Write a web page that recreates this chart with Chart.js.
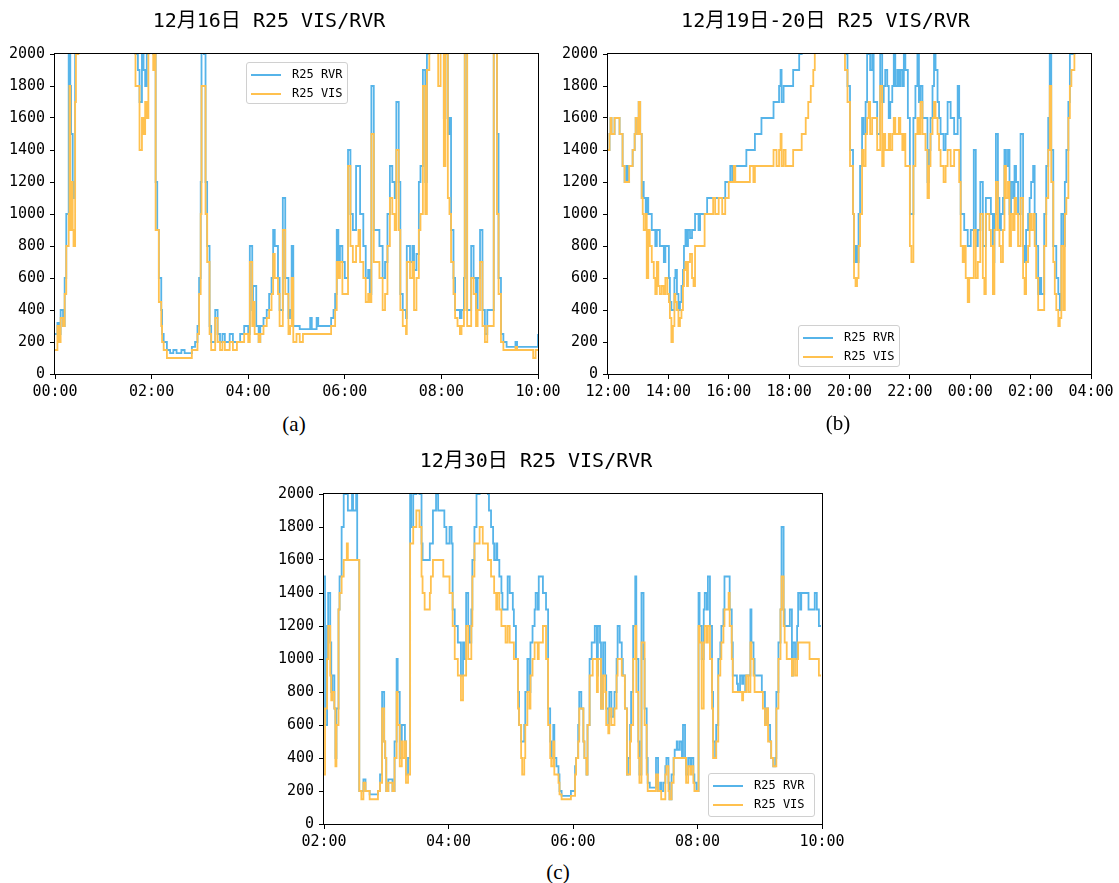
<!DOCTYPE html>
<html>
<head>
<meta charset="utf-8">
<script src="https://cdn.jsdelivr.net/npm/chart.js@4/dist/chart.umd.min.js"></script>
<style>
  body { margin: 0; width: 1119px; height: 883px; position: relative; background: #fff; overflow: hidden; }
  canvas { position: absolute; }
  .legend { position: absolute; background: rgba(255,255,255,0.85); border: 1px solid #d0d0d0; border-radius: 3px; box-sizing: border-box;
            font: 12px 'DejaVu Sans Mono', monospace; color: #000; }
  .legend .row { position: absolute; left: 4px; height: 16px; line-height: 16px; white-space: nowrap; }
  .legend .swatch { display: inline-block; width: 30px; height: 2px; vertical-align: middle; margin-right: 11px; }
  .caption { position: absolute; font: 21px 'Liberation Serif', 'Times New Roman', serif; color: #000; transform: translate(-50%, -50%); }
</style>
</head>
<body>
<canvas id="chartA" width="560" height="402" style="left:0;top:0"></canvas>
<canvas id="chartB" width="559" height="402" style="left:560px;top:0"></canvas>
<canvas id="chartC" width="600" height="412" style="left:250px;top:440px"></canvas>

<div class="legend" style="left:246px;top:62px;width:102px;height:42px">
  <div class="row" style="top:3px"><span class="swatch" style="background:#56B4E9"></span>R25 RVR</div>
  <div class="row" style="top:22px"><span class="swatch" style="background:#FFC14F"></span>R25 VIS</div>
</div>
<div class="legend" style="left:798px;top:325px;width:102px;height:42px">
  <div class="row" style="top:3px"><span class="swatch" style="background:#56B4E9"></span>R25 RVR</div>
  <div class="row" style="top:22px"><span class="swatch" style="background:#FFC14F"></span>R25 VIS</div>
</div>
<div class="legend" style="left:708px;top:773px;width:107px;height:44px">
  <div class="row" style="top:3px"><span class="swatch" style="background:#56B4E9"></span>R25 RVR</div>
  <div class="row" style="top:22px"><span class="swatch" style="background:#FFC14F"></span>R25 VIS</div>
</div>

<div class="caption" style="left:294px;top:424px">(a)</div>
<div class="caption" style="left:838px;top:423px">(b)</div>
<div class="caption" style="left:558px;top:872px">(c)</div>

<script>
// minutes after the start hour of each panel; 2200 = off the top of the axis
const aMinutes = [0,3,5,7,10,12,14,17,18,19,20,22,23,25,26,29,100,103,105,108,110,112,114,116,122,124,125,127,129,132,133,135,139,143,147,151,157,161,170,174,177,179,181,182,185,187,189,192,194,199,202,205,208,211,217,221,226,230,235,240,242,245,246,248,250,253,255,259,263,266,269,271,273,277,279,283,286,290,292,294,296,300,304,308,317,319,325,327,333,341,343,346,348,350,352,354,357,360,364,367,370,374,377,379,383,386,389,391,393,396,399,403,407,410,413,416,419,422,424,427,429,432,436,437,441,444,446,449,452,454,457,460,462,465,476,479,483,485,488,490,492,495,497,500,503,505,508,509,512,515,517,520,523,525,528,531,534,537,541,545,549,551,554,557,561,572,574,594,597,600];
const aRvr = [250,320,250,400,300,600,1000,2200,2000,1800,1500,1200,1100,2200,2200,2200,2000,1900,1700,2000,1900,1800,2000,2200,2000,2200,1200,900,600,400,250,200,150,130,150,130,150,130,170,200,300,600,1200,2200,2000,1200,800,300,200,400,250,200,250,200,250,200,200,250,300,250,800,400,550,550,300,200,300,350,400,500,600,900,800,600,400,1100,600,350,400,800,300,300,280,280,350,280,350,300,300,300,350,400,500,900,700,800,700,600,1400,1000,900,1300,1300,1000,800,600,650,500,1800,900,900,800,600,700,1000,1300,1200,1100,1700,1200,500,400,350,800,700,800,650,750,1200,1300,1900,1200,2000,2200,2200,2200,1600,2200,1500,1600,900,600,400,400,350,400,600,2200,400,400,800,600,400,600,900,400,250,400,400,2200,1500,600,250,200,170,200,170,170,170,250];
const aVis = [150,300,200,350,300,500,800,1000,1800,900,1200,900,800,1700,2000,2200,1800,1800,1400,1600,1500,1700,1600,2200,1900,2000,900,900,450,300,200,150,100,100,100,100,100,100,150,150,250,500,1000,1800,1800,1000,700,250,150,350,200,150,200,150,200,150,200,200,250,200,700,300,450,250,250,200,250,300,350,400,500,750,600,500,300,900,500,250,300,600,200,250,200,250,250,250,250,250,250,250,300,300,400,700,600,700,500,500,1300,800,700,800,900,700,600,450,500,450,1500,700,700,600,400,500,800,1100,1000,900,1400,900,400,300,250,700,600,700,400,600,900,1000,1800,1000,1900,2200,1800,2200,1300,2000,1100,1000,700,500,350,300,250,300,400,2200,300,300,600,500,300,400,700,300,200,300,300,2200,1000,500,200,150,150,170,150,100,150,150];

const bMinutes = [0,3,5,7,13,23,29,33,37,39,42,49,53,55,59,61,64,67,69,71,75,77,80,83,87,91,94,97,100,103,107,111,114,118,121,123,126,129,132,134,137,140,143,146,149,151,154,157,159,163,167,170,173,180,183,192,197,209,213,220,227,233,240,243,247,250,253,275,282,289,292,305,329,335,340,343,345,349,353,368,380,385,393,398,403,408,411,471,476,481,487,489,492,495,498,501,505,508,512,515,518,521,525,528,535,541,545,548,551,555,558,561,565,568,571,575,578,581,585,588,591,596,600,603,607,611,615,618,621,625,631,635,638,641,645,648,651,655,658,661,667,671,675,681,688,695,698,701,705,708,711,715,718,721,727,731,735,740,745,748,751,758,761,765,768,771,775,778,781,785,788,791,795,798,801,805,808,811,815,820,825,828,831,835,838,841,845,848,851,855,858,861,867,871,875,878,881,885,888,891,895,898,901,905,908,911,915,918,921,927,935];
const bRvr = [1400,1500,1600,1500,1600,1500,1300,1200,1300,1200,1300,1400,1500,1600,1500,1700,1500,1100,1200,1100,1000,1100,1000,1000,900,900,800,900,900,800,800,700,800,800,600,450,400,400,600,650,500,400,450,550,650,800,900,800,900,850,900,900,1000,900,1000,1000,1100,1100,1100,1100,1100,1200,1200,1300,1200,1300,1300,1400,1400,1400,1500,1600,1700,1700,1800,1900,1700,1800,1800,1900,2000,2200,2200,2200,2200,2200,2200,2000,1800,1400,1000,700,800,700,1000,1300,1600,1500,1700,2000,2000,1900,2000,1700,1500,2000,1700,1800,1900,1800,1600,1700,1800,2000,1800,1900,1800,1900,1800,2000,1900,1600,1000,1000,1600,1800,2000,1700,1800,1600,1600,1200,1400,1600,1800,2000,1900,1700,1600,1500,1400,1500,1700,1600,1500,1800,1600,1000,1000,900,900,800,800,900,1400,800,900,1200,800,800,1100,1100,1000,700,1000,1500,1100,900,1000,1100,1400,1300,1400,1000,1200,1100,1300,1200,1000,1500,800,700,900,1000,1100,1200,1300,1000,800,500,600,500,1000,1300,1600,2000,1400,800,800,600,500,400,1000,800,1200,1400,1700,2000,2000,2200,2200];
const bVis = [1400,1500,1600,1500,1600,1500,1300,1200,1200,1200,1300,1400,1500,1600,1500,1700,1500,1100,1000,900,1000,600,900,800,700,600,500,700,550,500,550,500,600,500,450,350,200,300,500,450,400,300,350,400,550,650,700,550,700,750,600,550,800,800,800,1000,1000,1100,1000,1100,1000,1100,1200,1200,1200,1300,1200,1200,1300,1200,1300,1300,1400,1300,1400,1500,1300,1400,1300,1400,1400,1500,1600,1700,1800,1900,2200,1900,1700,1300,1000,600,550,600,800,1000,1400,1300,1500,1600,1700,1500,1600,1600,1400,1800,1300,1500,1400,1400,1500,1400,1500,1600,1500,1500,1600,1500,1400,1500,1300,1300,800,700,1300,1500,1600,1500,1700,1500,1400,1100,1300,1500,1600,1700,1600,1500,1400,1300,1200,1300,1400,1300,1400,1400,1200,800,700,800,600,450,600,600,900,600,700,1000,600,500,1000,900,800,500,900,1200,900,800,700,900,1300,1100,1200,800,1000,900,1100,1000,800,1100,600,500,700,800,1000,900,1000,800,600,400,400,400,800,1100,1400,1800,1200,700,500,400,300,350,800,400,1000,1100,1600,1800,1900,2200,2200];

const cMinutes = [0,1,3,4,6,7,8,10,11,12,14,15,17,19,22,23,27,28,31,32,34,36,38,40,44,52,54,56,58,59,60,62,64,66,68,70,71,73,75,76,78,79,81,83,84,86,89,92,94,95,97,100,102,103,105,108,110,115,116,118,121,123,124,126,129,132,134,135,137,139,140,142,143,145,147,150,153,158,159,161,163,164,166,167,169,171,172,175,177,179,182,183,185,187,188,190,191,193,194,196,198,199,201,203,204,206,207,211,214,216,218,219,221,222,224,226,227,229,238,242,243,245,246,248,250,251,253,254,256,258,259,261,263,264,266,267,269,271,272,274,275,277,279,280,282,283,285,287,288,290,292,293,295,296,298,300,301,303,304,306,308,309,311,312,314,320,322,324,325,327,329,330,332,333,335,337,338,340,341,343,345,346,348,349,351,353,354,356,357,359,361,362,364,366,367,369,370,372,374,375,377,378,380,382,383,385,386,390,391,393,394,398,399,401,403,404,406,407,409,411,412,414,415,422,423,425,427,428,430,431,433,435,436,438,440,441,443,444,446,449,451,452,454,456,457,459,460,467,468,473,475,477,479];
const cRvr = [1500,600,1200,1400,1100,800,900,700,400,700,1300,1500,1800,2000,2000,1900,2000,1900,2000,1600,200,200,270,200,180,200,300,800,500,400,200,270,270,200,500,1000,800,400,600,600,500,300,400,2000,1800,2000,2200,2000,1700,1600,1600,1600,1700,1700,1900,2000,1900,1900,1800,1700,1800,1700,1300,1200,1100,900,1100,1000,1400,1200,1100,1300,1600,1800,2000,2200,2200,2000,1900,1800,1700,1600,1700,1600,1500,1400,1300,1300,1500,1400,1300,1200,1000,800,600,500,500,600,800,1000,800,1100,1200,1300,1400,1300,1500,1400,1300,700,500,400,600,400,350,300,200,170,200,350,400,600,800,700,500,400,300,600,1000,1100,1100,1200,900,1200,1100,700,1100,900,700,600,800,650,700,800,1000,1200,1100,1000,900,700,300,400,600,800,1200,1500,1000,500,300,1400,1000,700,400,250,220,400,200,250,200,250,350,400,250,150,300,400,450,500,450,500,400,600,400,300,400,350,400,300,250,200,1400,1200,1000,1300,1400,1300,1500,1200,800,500,400,600,1000,1100,1200,1300,1500,1500,1300,1100,900,850,800,900,850,900,800,900,900,1300,1100,1000,900,800,800,600,700,600,500,400,350,400,800,1100,1300,1800,1300,1200,1200,1300,900,1100,1000,1200,1400,1300,1400,1300,1300,1400,1300,1200,1200];
const cVis = [300,700,1000,1200,900,750,800,700,350,600,1300,1400,1500,1600,1700,1600,1600,1600,1600,1600,200,150,250,200,150,200,250,700,500,400,200,250,250,200,400,800,600,350,500,400,500,250,300,1700,1700,1800,1900,1800,1500,1400,1300,1300,1400,1500,1600,1600,1600,1500,1500,1500,1400,1400,1200,1000,900,750,900,900,1200,1000,1000,1200,1500,1700,1700,1800,1700,1600,1600,1500,1500,1400,1300,1400,1300,1200,1200,1100,1200,1100,1100,1000,1000,700,600,400,300,400,600,800,700,900,1000,1100,1100,1000,1100,1200,1000,600,400,350,500,300,300,250,180,150,170,300,400,500,700,700,500,400,300,600,900,900,1000,1000,800,1000,1000,700,900,800,600,550,700,600,600,700,900,1000,1000,900,900,700,300,300,500,600,1000,1200,800,400,250,1100,1100,600,300,200,200,300,200,200,150,150,300,350,200,150,250,400,400,400,400,400,400,400,400,250,350,300,350,250,200,200,1200,1100,700,1100,1200,1100,1200,1000,700,400,400,500,900,1000,1100,1200,1300,1400,1200,1000,800,800,800,800,750,800,800,900,800,1100,1000,900,800,800,700,600,700,500,500,400,350,350,700,1000,1300,1500,1200,1100,1000,1000,900,1000,900,1000,1100,1100,1100,1100,1000,1000,1000,900,900];

const yTicks = [0, 200, 400, 600, 800, 1000, 1200, 1400, 1600, 1800, 2000];
const rvrColor = '#56B4E9';
const visColor = '#FFC14F';

Chart.defaults.font.family = "'DejaVu Sans Mono', 'Noto Sans CJK SC', monospace";
Chart.defaults.color = '#000';

const framePlugin = {
  id: 'frame',
  afterDatasetsDraw(chart) {
    const { ctx, chartArea: a } = chart;
    ctx.save();
    ctx.strokeStyle = '#000';
    ctx.lineWidth = 1;
    ctx.strokeRect(Math.round(a.left) - 0.5, Math.round(a.top) - 0.5, Math.round(a.right - a.left) + 1, Math.round(a.bottom - a.top) + 1);
    ctx.restore();
  }
};

function pad(n) {
  return String(n).padStart(2, '0');
}

function toPoints(minutes, values) {
  return minutes.map((m, i) => ({ x: m, y: values[i] }));
}

function makeChart(id, title, minutes, rvr, vis, opts) {
  const ctx = document.getElementById(id).getContext('2d');
  return new Chart(ctx, {
    type: 'line',
    data: {
      datasets: [
        { label: 'R25 RVR', data: toPoints(minutes, rvr), borderColor: rvrColor, borderWidth: 1.8, order: 2 },
        { label: 'R25 VIS', data: toPoints(minutes, vis), borderColor: visColor, borderWidth: 1.8, order: 1 }
      ]
    },
    options: {
      responsive: false,
      animation: false,
      devicePixelRatio: 1,
      elements: { point: { radius: 0 }, line: { stepped: true, tension: 0 } },
      layout: { padding: { right: opts.padRight } },
      plugins: {
        legend: { display: false },
        tooltip: { enabled: false },
        title: {
          display: true,
          text: title,
          color: '#000',
          font: { size: 20, weight: 'normal' },
          padding: { top: 10, bottom: 20 }
        }
      },
      scales: {
        x: {
          type: 'linear',
          min: opts.xMax - opts.span,
          max: opts.xMax,
          // keep the plot edges where the reference has them
          afterFit: s => { s.height = 28; s.paddingLeft = 0; s.paddingRight = 0; },
          afterBuildTicks: s => { s.ticks = opts.xTicks.map(v => ({ value: v })); },
          grid: { drawOnChartArea: false, drawTicks: true, tickLength: 5, color: '#000' },
          border: { display: false },
          ticks: {
            padding: 4,
            font: { size: 15 },
            maxRotation: 0,
            callback: v => {
              const t = (opts.startHour * 60 + v) % 1440;
              return pad(Math.floor(t / 60)) + ':' + pad(t % 60);
            }
          }
        },
        y: {
          min: 0,
          max: 2000,
          afterFit: s => { s.width = opts.yWidth; },
          afterBuildTicks: s => { s.ticks = yTicks.map(v => ({ value: v })); },
          grid: { drawOnChartArea: false, drawTicks: true, tickLength: 5, color: '#000' },
          border: { display: false },
          ticks: { padding: 5, font: { size: 15 }, callback: v => String(v) }
        }
      }
    },
    plugins: [framePlugin]
  });
}

makeChart('chartA', '12月16日 R25 VIS/RVR', aMinutes, aRvr, aVis,
  { startHour: 0, span: 600, xMax: 600, xTicks: [0, 120, 240, 360, 480, 600], yWidth: 55, padRight: 22 });
makeChart('chartB', '12月19日-20日 R25 VIS/RVR', bMinutes, bRvr, bVis,
  { startHour: 12, span: 960, xMax: 960, xTicks: [0, 120, 240, 360, 480, 600, 720, 840, 960], yWidth: 48, padRight: 28 });
makeChart('chartC', '12月30日 R25 VIS/RVR', cMinutes, cRvr, cVis,
  { startHour: 2, span: 480, xMax: 480, xTicks: [0, 120, 240, 360, 480], yWidth: 74, padRight: 28 });
</script>
</body>
</html>
